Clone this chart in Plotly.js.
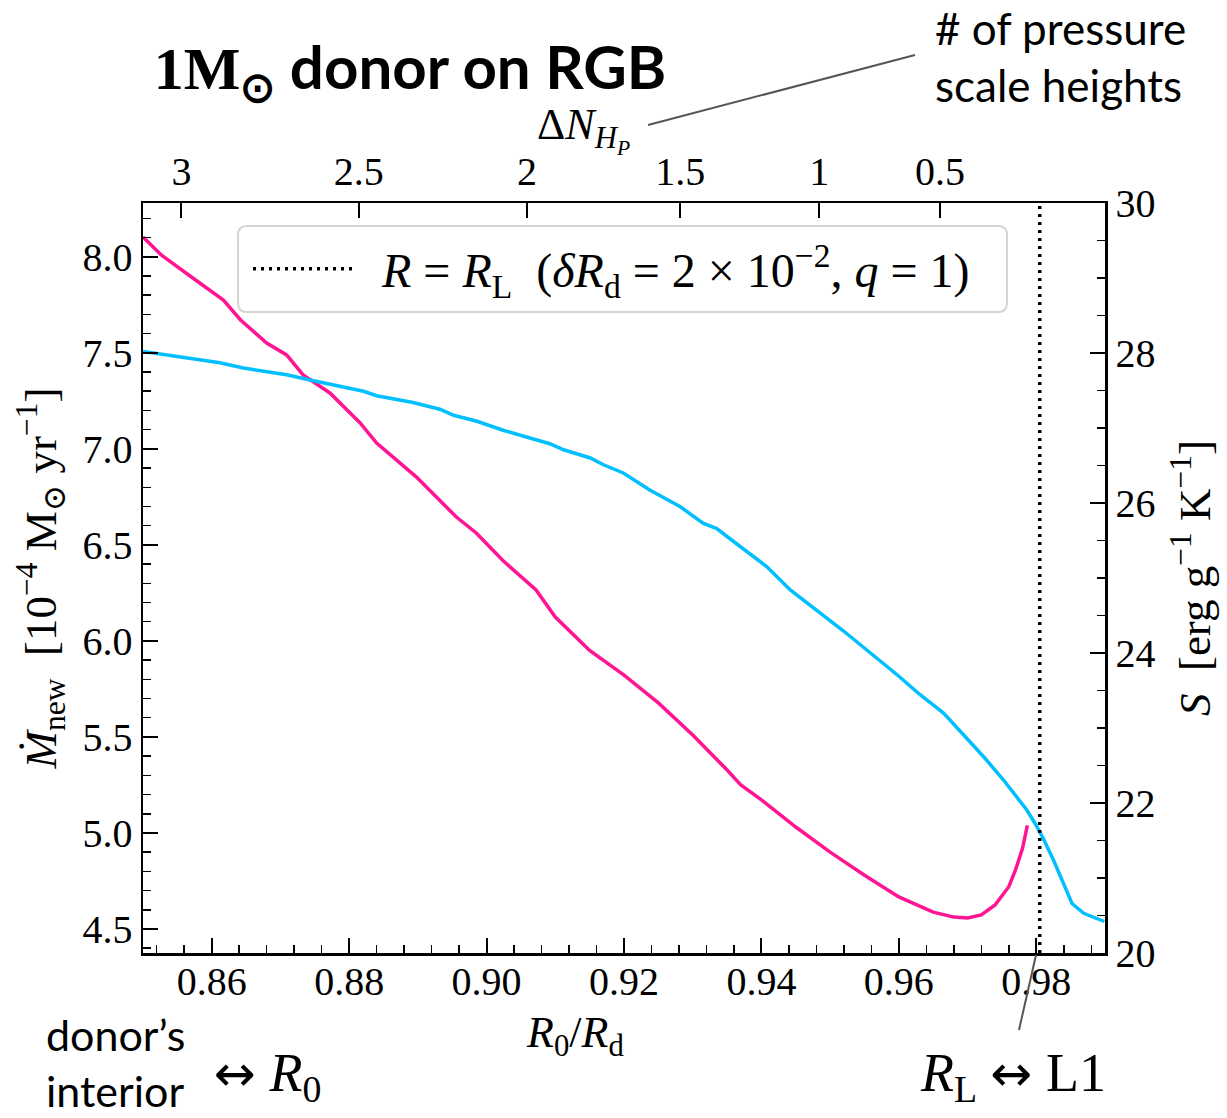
<!DOCTYPE html>
<html>
<head>
<meta charset="utf-8">
<script src="https://cdn.plot.ly/plotly-3.0.1.min.js"></script>
<style>html,body{margin:0;padding:0;background:#fff;}#chart{width:1227px;height:1118px;}</style>
</head>
<body>
<div id="chart"></div>
<script>
// ---- data ----
const R0_mdot = [0.8500,0.8527,0.8577,0.8617,0.8642,0.8680,0.8709,0.8733,0.8772,0.8816,0.8840,0.8869,0.8898,0.8927,0.8956,0.8985,0.9023,0.9072,0.9100,0.9150,0.9200,0.9250,0.9300,0.9350,0.9370,0.9400,0.9450,0.9500,0.9550,0.9600,0.9650,0.9680,0.9700,0.9720,0.9740,0.9760,0.9770,0.9780,0.9787];
const Mdot_new = [8.103,8.008,7.878,7.775,7.671,7.551,7.489,7.385,7.291,7.135,7.030,6.942,6.853,6.749,6.645,6.562,6.421,6.265,6.124,5.950,5.822,5.677,5.510,5.328,5.250,5.172,5.031,4.900,4.780,4.667,4.588,4.562,4.557,4.573,4.625,4.720,4.810,4.920,5.040];

const R0_S = [0.8500,0.8530,0.8612,0.8646,0.8709,0.8743,0.8782,0.8821,0.8840,0.8893,0.8932,0.8952,0.8986,0.9024,0.9058,0.9092,0.9112,0.9151,0.9170,0.9199,0.9238,0.9282,0.9315,0.9335,0.9369,0.9408,0.9442,0.9480,0.9520,0.9560,0.9600,0.9630,0.9665,0.9700,0.9725,0.9752,0.9772,0.9786,0.9798,0.9810,0.9825,0.9837,0.9852,0.9869,0.9899];
const S_entropy = [28.02,27.98,27.87,27.80,27.71,27.64,27.56,27.49,27.43,27.34,27.25,27.17,27.09,26.97,26.88,26.79,26.71,26.60,26.51,26.40,26.17,25.95,25.73,25.66,25.42,25.15,24.84,24.57,24.29,23.99,23.69,23.45,23.20,22.85,22.60,22.31,22.08,21.91,21.73,21.53,21.24,20.97,20.66,20.53,20.42];

const R_L = 0.9805;                       // R0/Rd of the Roche lobe radius
const topTickR0 = [0.8556,0.8814,0.9059,0.9282,0.9484,0.9660];
const topTickLabels = ['3','2.5','2','1.5','1','0.5'];

const xRange = [0.85, 0.99];
const yRange = [4.375, 8.28];
const y2Range = [20, 30];

// ---- helpers for pixel-placed decorations ----
const PL = 143, PR = 1105, PT = 203, PB = 953;
const px = v => (v - PL) / (PR - PL);
const py = v => (PB - v) / (PB - PT);

const serif = 'Liberation Serif, DejaVu Serif, serif';
const sans = 'Lato, Open Sans, sans-serif';
const arrow = '<span style="font-family:DejaVu Sans;font-size:50px">↔</span>';

// ---- traces ----
const traces = [
  {x: R0_mdot, y: Mdot_new, xaxis:'x', yaxis:'y', mode:'lines', showlegend:false,
   line:{color:'#ff1493', width:3.5}, name:'Mdot'},
  {x: R0_S, y: S_entropy, xaxis:'x', yaxis:'y2', mode:'lines', showlegend:false,
   line:{color:'#00bfff', width:3.5}, name:'S'},
  {x: [R_L, R_L], y: yRange, xaxis:'x2', yaxis:'y', mode:'lines', showlegend:true,
   line:{color:'black', width:3.5, dash:'3px,5px'},
   name:'\u2002<i>R</i> = <i>R</i><sub>L</sub>  (<i>δR</i><sub>d</sub> = 2 × 10<sup>−2</sup>, <i>q</i> = 1)'}
];

const tickFont = {family: serif, size: 40, color:'black'};
const axisCommon = {showgrid:false, zeroline:false, showline:true, linecolor:'black', linewidth:2.5,
  ticks:'inside', ticklen:15, tickwidth:2, tickcolor:'black', tickfont:tickFont};

// rounded legend frame (paper coords)
function roundRect(x0, y0, x1, y1, r) {
  const rx = r / (PR - PL), ry = r / (PB - PT);
  const X0 = px(x0), X1 = px(x1), Yt = py(y0), Yb = py(y1);
  return `M${X0+rx},${Yt} L${X1-rx},${Yt} Q${X1},${Yt} ${X1},${Yt-ry} L${X1},${Yb+ry} Q${X1},${Yb} ${X1-rx},${Yb} ` +
         `L${X0+rx},${Yb} Q${X0},${Yb} ${X0},${Yb+ry} L${X0},${Yt-ry} Q${X0},${Yt} ${X0+rx},${Yt} Z`;
}

const layout = {
  width:1227, height:1118,
  margin:{l:143, r:122, t:203, b:165},
  paper_bgcolor:'white', plot_bgcolor:'white',
  font:{family: serif, size:40, color:'black'},
  title:{text:'<b><span style="font-family:Liberation Serif">1M<sub>⊙</sub></span> donor on RGB</b>',
    font:{family:sans, size:60, color:'black'},
    x:410/1227, y:1-68/1118, xanchor:'center', yanchor:'middle', xref:'container', yref:'container'},
  showlegend:true,
  legend:{x:px(248), y:py(269), xanchor:'left', yanchor:'middle',
    bgcolor:'rgba(0,0,0,0)', borderwidth:0,
    font:{family: serif, size:48, color:'black'}, itemwidth:100},
  xaxis: Object.assign({}, axisCommon, {
    range:xRange, tick0:0.86, dtick:0.02, tickformat:'.2f', side:'bottom', ticklabelstandoff:-9,
    minor:{tick0:0.86, dtick:0.004, ticks:'inside', ticklen:8, tickwidth:1.5, tickcolor:'black'}
  }),
  xaxis2: Object.assign({}, axisCommon, {
    range:xRange, overlaying:'x', side:'top', tickmode:'array', tickvals:topTickR0, ticktext:topTickLabels
  }),
  yaxis: Object.assign({}, axisCommon, {
    range:yRange, tick0:4.5, dtick:0.5, tickformat:'.1f', side:'left',
    minor:{tick0:4.5, dtick:0.1, ticks:'inside', ticklen:8, tickwidth:1.5, tickcolor:'black'},
    title:{text:'<i>Ṁ</i><sub>new</sub>  [10<sup>−4</sup> M<sub>⊙</sub> yr<sup>−1</sup>]', font:{family:serif, size:45}, standoff:12}
  }),
  yaxis2: Object.assign({}, axisCommon, {
    range:y2Range, overlaying:'y', side:'right', tick0:20, dtick:2,
    minor:{tick0:20, dtick:0.5, ticks:'inside', ticklen:8, tickwidth:1.5, tickcolor:'black'},
    title:{text:'<i>S</i>  [erg g<sup>−1</sup> K<sup>−1</sup>]', font:{family:serif, size:45}, standoff:24}
  }),
  shapes:[
    {type:'path', xref:'paper', yref:'paper', path: roundRect(238, 226, 1007, 312, 9),
     fillcolor:'rgba(255,255,255,0.85)', line:{color:'#d4d4d4', width:2}, layer:'above'},
    {type:'line', xref:'paper', yref:'paper', x0:px(648), y0:py(125), x1:px(915), y1:py(55),
     line:{color:'#555555', width:2}},
    {type:'line', xref:'paper', yref:'paper', x0:px(1019), y0:py(1030), x1:px(1036), y1:py(955),
     line:{color:'#555555', width:2}}
  ],
  annotations:[
    {xref:'paper', yref:'paper', x:px(575), y:py(1035), xanchor:'center', yanchor:'middle', showarrow:false,
     text:'<i>R</i><sub>0</sub>/<i>R</i><sub>d</sub>', font:{family:serif, size:44, color:'black'}},
    {xref:'paper', yref:'paper', x:px(583), y:py(130), xanchor:'center', yanchor:'middle', showarrow:false,
     text:'Δ<i>N</i><sub><i>H</i><sub><i>P</i></sub></sub>', font:{family:serif, size:44, color:'black'}},
    {xref:'paper', yref:'paper', x:px(933), y:py(57), xanchor:'left', yanchor:'middle', showarrow:false, align:'left',
     text:'# of pressure<br>scale heights', font:{family:sans, size:44, color:'black'}},
    {xref:'paper', yref:'paper', x:px(44), y:py(1062), xanchor:'left', yanchor:'middle', showarrow:false, align:'left',
     text:'donor’s<br>interior', font:{family:sans, size:43, color:'black'}},
    {xref:'paper', yref:'paper', x:px(212), y:py(1076), xanchor:'left', yanchor:'middle', showarrow:false,
     text: arrow + ' <i>R</i><sub>0</sub>', font:{family:serif, size:54, color:'black'}},
    {xref:'paper', yref:'paper', x:px(918), y:py(1076), xanchor:'left', yanchor:'middle', showarrow:false,
     text:'<i>R</i><sub>L</sub> ' + arrow + ' L1', font:{family:serif, size:54, color:'black'}}
  ]
};

Plotly.newPlot('chart', traces, layout, {displayModeBar:false, staticPlot:true});
</script>
</body>
</html>
